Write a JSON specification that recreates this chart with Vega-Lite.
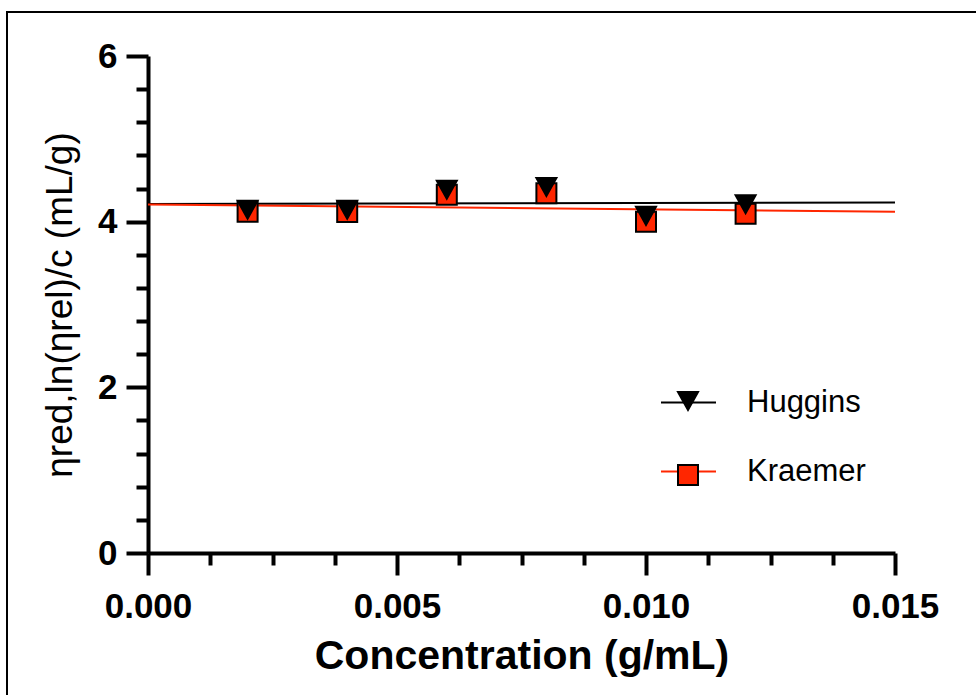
{
  "$schema": "https://vega.github.io/schema/vega-lite/v6.json",
  "autosize": {"type": "none"},
  "width": 969,
  "height": 683,
  "padding": {"left": 7, "top": 12, "right": 0, "bottom": 0},
  "background": "white",
  "config": {
    "view": {"stroke": "black", "strokeWidth": 2, "strokeDash": [969, 1652, 683], "fill": "white"},
    "font": "Liberation Sans",
    "axis": {
      "grid": false,
      "domainColor": "black",
      "domainWidth": 4,
      "tickColor": "black",
      "tickWidth": 4,
      "labelColor": "black",
      "titleColor": "black",
      "labelFont": "Liberation Sans",
      "titleFont": "Liberation Sans",
      "labelFontWeight": "bold",
      "labelFontSize": 35
    }
  },
  "layer": [
    {
      "data": {"values": [
        {"series": "Huggins", "x": 0, "y": 4.213},
        {"series": "Huggins", "x": 0.015, "y": 4.23},
        {"series": "Kraemer", "x": 0, "y": 4.207},
        {"series": "Kraemer", "x": 0.015, "y": 4.12}
      ]},
      "mark": {"type": "line", "strokeWidth": 2},
      "encoding": {
        "x": {
          "field": "x", "type": "quantitative",
          "scale": {"domain": [0, 0.015], "range": [141, 888], "nice": false, "zero": false},
          "axis": {
            "orient": "bottom",
            "offset": -142,
            "values": [0, 0.00125, 0.0025, 0.00375, 0.005, 0.00625, 0.0075, 0.00875, 0.01, 0.01125, 0.0125, 0.01375, 0.015],
            "labelExpr": "abs(datum.value*200 - round(datum.value*200)) < 1e-6 ? format(datum.value, '.3f') : ''",
            "tickSize": {"condition": {"test": "abs(datum.value*200 - round(datum.value*200)) < 1e-6", "value": 22}, "value": 12},
            "labelPadding": 14,
            "labelFlush": false,
            "labelOverlap": false,
            "title": "Concentration (g/mL)",
            "titleFontSize": 41,
            "titleFontWeight": "bold",
            "titlePadding": 12
          }
        },
        "y": {
          "field": "y", "type": "quantitative",
          "scale": {"domain": [0, 6], "range": [541, 44], "nice": false, "zero": false},
          "axis": {
            "orient": "left",
            "offset": -141,
            "values": [0, 0.4, 0.8, 1.2, 1.6, 2, 2.4, 2.8, 3.2, 3.6, 4, 4.4, 4.8, 5.2, 5.6, 6],
            "labelExpr": "abs(datum.value/2 - round(datum.value/2)) < 1e-6 ? format(datum.value, 'd') : ''",
            "tickSize": {"condition": {"test": "abs(datum.value/2 - round(datum.value/2)) < 1e-6", "value": 22}, "value": 12},
            "labelPadding": 9,
            "labelFlush": false,
            "labelOverlap": false,
            "title": "ηred,ln(ηrel)/c (mL/g)",
            "titleFontSize": 37,
            "titleFontWeight": "normal",
            "titlePadding": 18
          }
        },
        "color": {
          "field": "series", "type": "nominal",
          "scale": {"range": ["#000000", "#ff2600"]},
          "legend": {
            "orient": "none",
            "legendX": 653,
            "legendY": 362,
            "title": null,
            "padding": 0,
            "symbolType": "stroke",
            "symbolSize": 3025,
            "symbolStrokeWidth": 2,
            "labelFontSize": 31,
            "labelFont": "Liberation Sans",
            "labelColor": "black",
            "labelOffset": 30,
            "rowPadding": 25
          }
        }
      }
    },
    {
      "data": {"values": [
        {"group": "Kraemer", "c": 0.002, "v": 4.12},
        {"group": "Kraemer", "c": 0.004, "v": 4.117},
        {"group": "Kraemer", "c": 0.006, "v": 4.326},
        {"group": "Kraemer", "c": 0.008, "v": 4.343},
        {"group": "Kraemer", "c": 0.010, "v": 4.0},
        {"group": "Kraemer", "c": 0.012, "v": 4.096},
        {"group": "Huggins", "c": 0.002, "v": 4.145},
        {"group": "Huggins", "c": 0.004, "v": 4.145},
        {"group": "Huggins", "c": 0.006, "v": 4.386},
        {"group": "Huggins", "c": 0.008, "v": 4.42},
        {"group": "Huggins", "c": 0.010, "v": 4.07},
        {"group": "Huggins", "c": 0.012, "v": 4.21}
      ]},
      "mark": {"type": "point", "filled": true, "size": 400, "stroke": "black", "strokeWidth": 2, "opacity": 1},
      "encoding": {
        "x": {"field": "c", "type": "quantitative"},
        "y": {"field": "v", "type": "quantitative"},
        "fill": {
          "field": "group", "type": "nominal",
          "scale": {"range": ["#000000", "#ff2600"]},
          "legend": {
            "orient": "none",
            "legendX": 670,
            "legendY": 378,
            "title": null,
            "padding": 0,
            "symbolStrokeColor": "black",
            "symbolStrokeWidth": 2,
            "symbolSize": 400,
            "labelFontSize": 1,
            "labelExpr": "''",
            "rowPadding": 47
          }
        },
        "shape": {
          "field": "group", "type": "nominal",
          "scale": {"range": ["M-1,-0.9H1L0,0.9Z", "square"]}
        }
      }
    }
  ]
}
